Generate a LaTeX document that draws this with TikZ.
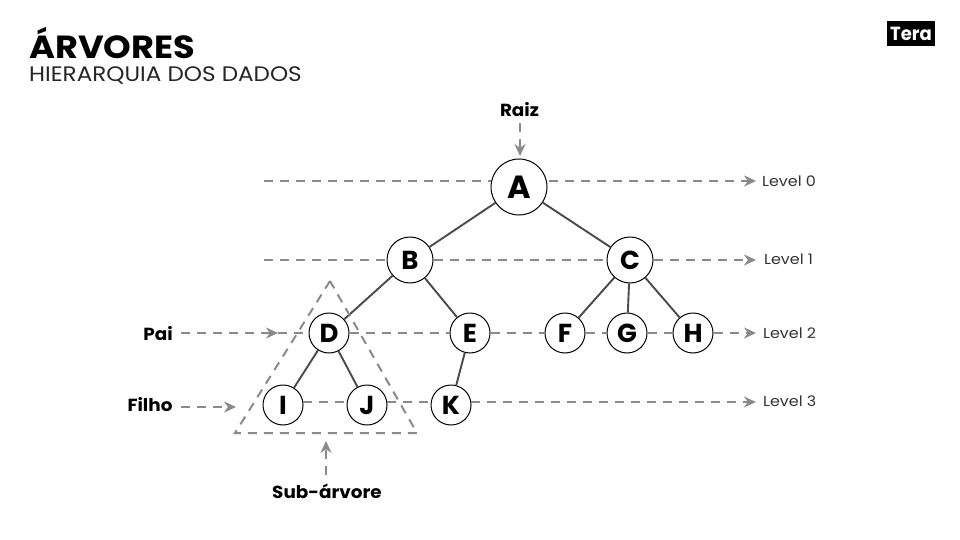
\documentclass[tikz,border=0pt]{standalone}
\usepackage{fontspec}
\setmainfont{Poppins}
\newfontfamily\widefont[FakeStretch=1.1]{Poppins}
\newfontfamily\lblfont[FakeStretch=1.05]{Poppins}
\newfontfamily\logofont[FakeStretch=0.95]{Poppins}
\usetikzlibrary{arrows.meta}
\definecolor{dashgray}{HTML}{8A8A8A}
\definecolor{edgegray}{HTML}{4A4A4A}
\tikzset{
  x=1pt,y=-1pt,
  treenode/.style={circle,draw=black,fill=white,line width=1pt,inner sep=0pt,font=\bfseries\fontsize{#1}{#1}\selectfont},
  nodebig/.style={treenode=32,minimum size=56pt},
  nodemid/.style={treenode=26,minimum size=46pt},
  nodesmall/.style={treenode=26,minimum size=40pt},
  treeline/.style={draw=edgegray,line width=1.9pt},
  dashline/.style={draw=dashgray,line width=2pt,dash pattern=on 9pt off 7pt},
  darrow/.style={dashline,-{Stealth[length=12pt,width=11pt,fill=dashgray]}},
  lvl/.style={anchor=west,inner sep=0pt,font=\widefont\fontsize{14.5}{15}\selectfont,text=black!80},
  lbl/.style={inner sep=0pt,font=\lblfont\bfseries\fontsize{17.5}{18}\selectfont},
}
\begin{document}
\begin{tikzpicture}
\useasboundingbox (0,0) rectangle (960,540);
\node[anchor=west,inner sep=0pt,font=\widefont\bfseries\fontsize{32}{32}\selectfont] (title) at (29,42.5) {ÁRVORES};
\node[anchor=west,inner sep=0pt,font=\widefont\fontsize{21}{21}\selectfont,text=black!85] (sub) at (29,75) {HIERARQUIA DOS DADOS};
\node[fill=black,text=white,minimum width=48pt,minimum height=25pt,inner sep=0pt,font=\logofont\bfseries\fontsize{19}{19}\selectfont] (logo) at (911,33.5) {Tera};

\coordinate (l0s) at (264,181); \coordinate (l0a) at (491,181); \coordinate (l0b) at (549,181); \coordinate (l0e) at (756,181);
\coordinate (l1s) at (264,260); \coordinate (l1e) at (756,260);
\coordinate (l2e) at (756,333); \coordinate (pais) at (181,333); \coordinate (paie) at (278,333);
\coordinate (l3a) at (303,402); \coordinate (l3b) at (347,402); \coordinate (l3c) at (387,402); \coordinate (l3d) at (431,402); \coordinate (l3f) at (471,402); \coordinate (l3e) at (756,402);
\coordinate (fs) at (181,407); \coordinate (fe) at (236,407);
\coordinate (t1) at (330,281); \coordinate (t2) at (235,433); \coordinate (t3) at (417,433);
\coordinate (ss) at (326,475); \coordinate (se) at (326,441);
\coordinate (rs) at (520,123); \coordinate (re) at (520,156);

\node[nodebig] (A) at (519,187) {A};
\node[nodemid] (B) at (410,260) {B};
\node[nodemid] (C) at (630,260) {C};
\node[nodesmall] (D) at (329,333) {D};
\node[nodesmall] (E) at (470,333) {E};
\node[nodesmall] (F) at (565,333) {F};
\node[nodesmall] (G) at (627,333) {G};
\node[nodesmall] (H) at (693,333) {H};
\node[nodesmall] (I) at (283,405) {I};
\node[nodesmall] (J) at (367,405) {J};
\node[nodesmall] (K) at (451,405) {K};

\node[lvl] (L0) at (762,181) {Level 0};
\node[lvl] (L1) at (764,259) {Level 1};
\node[lvl] (L2) at (763,333) {Level 2};
\node[lvl] (L3) at (763,401) {Level 3};
\node[lbl] (raiz) at (519.5,110) {Raiz};
\node[lbl] (pai) at (158,334) {Pai};
\node[lbl] (filho) at (150,405) {Filho};
\node[lbl] (subt) at (327,491) {Sub-árvore};

\draw[treeline] (A) -- (B);
\draw[treeline] (A) -- (C);
\draw[treeline] (B) -- (D);
\draw[treeline] (B) -- (E);
\draw[treeline] (C) -- (F);
\draw[treeline] (C) -- (G);
\draw[treeline] (C) -- (H);
\draw[treeline] (D) -- (I);
\draw[treeline] (D) -- (J);
\draw[treeline] (E) -- (K);

\draw[dashline] (l0s) -- (l0a);
\draw[darrow] (l0b) -- (l0e);
\draw[dashline] (l1s) -- (B.west);
\draw[dashline] (B.east) -- (C.west);
\draw[darrow] (C.east) -- (l1e);
\draw[darrow] (pais) -- (paie);
\draw[dashline] (paie) -- (D.west);
\draw[dashline] (D.east) -- (E.west);
\draw[dashline] (E.east) -- (F.west);
\draw[dashline] (F.east) -- (G.west);
\draw[dashline] (G.east) -- (H.west);
\draw[darrow] (H.east) -- (l2e);
\draw[dashline] (l3a) -- (l3b);
\draw[dashline] (l3c) -- (l3d);
\draw[darrow] (l3f) -- (l3e);
\draw[darrow] (fs) -- (fe);
\draw[darrow] (ss) -- (se);
\draw[darrow] (rs) -- (re);
\draw[dashline] (t1) -- (t2) -- (t3) -- cycle;
\end{tikzpicture}
\end{document}
